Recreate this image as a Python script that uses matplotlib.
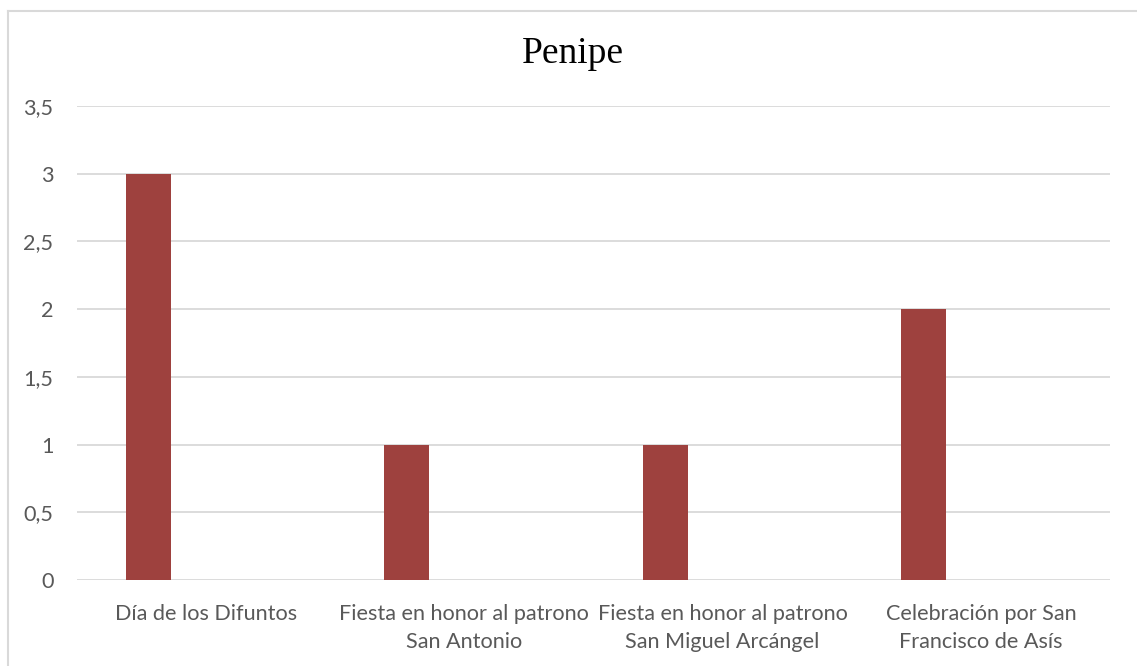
import matplotlib
matplotlib.use("Agg")
import matplotlib.pyplot as plt
from matplotlib.lines import Line2D
import numpy as np

categories = ["Día de los Difuntos",
              "Fiesta en honor al patrono\nSan Antonio",
              "Fiesta en honor al patrono\nSan Miguel Arcángel",
              "Celebración por San\nFrancisco de Asís"]
values = [3, 1, 1, 2]
yticks = [0, 0.5, 1, 1.5, 2, 2.5, 3, 3.5]
ytick_labels = ["0", "0,5", "1", "1,5", "2", "2,5", "3", "3,5"]
title = "Penipe"

W, H = 1137, 666
fig = plt.figure(figsize=(W / 100, H / 100), dpi=100)
ax = fig.add_axes([77 / W, 1 - 580 / H, (1110 - 77) / W, (580 - 106) / H])

x = np.arange(len(categories))
ax.bar(x - 0.223, values, width=0.174, color="#9E413E", zorder=3)

ax.set_xlim(-0.5, len(categories) - 0.5)
ax.set_ylim(0, 3.5)
ax.set_yticks(yticks)
ax.set_yticklabels(ytick_labels)
ax.set_xticks(x)
ax.set_xticklabels(categories, linespacing=1.5)
ax.yaxis.grid(True, color="#D9D9D9", linewidth=1.3, zorder=0)
ax.set_axisbelow(True)
for s in ax.spines.values():
    s.set_visible(False)
ax.tick_params(axis="both", length=0, colors="#595959", labelsize=15.6)
ax.tick_params(axis="y", pad=17)
ax.tick_params(axis="x", pad=17)
for lab in ax.get_xticklabels() + ax.get_yticklabels():
    lab.set_family("Lato")

fig.text(573 / W, 1 - 54 / H, title, ha="center", va="center",
         fontsize=27, family="Liberation Serif", color="black")

# outer frame (top and left)
fig.add_artist(Line2D([7.5 / W, 1], [1 - 10.5 / H, 1 - 10.5 / H],
                      transform=fig.transFigure, color="#D9D9D9", linewidth=1.5))
fig.add_artist(Line2D([7.5 / W, 7.5 / W], [0, 1 - 10.5 / H],
                      transform=fig.transFigure, color="#D9D9D9", linewidth=1.5))

fig.savefig("out.png", dpi=100)
